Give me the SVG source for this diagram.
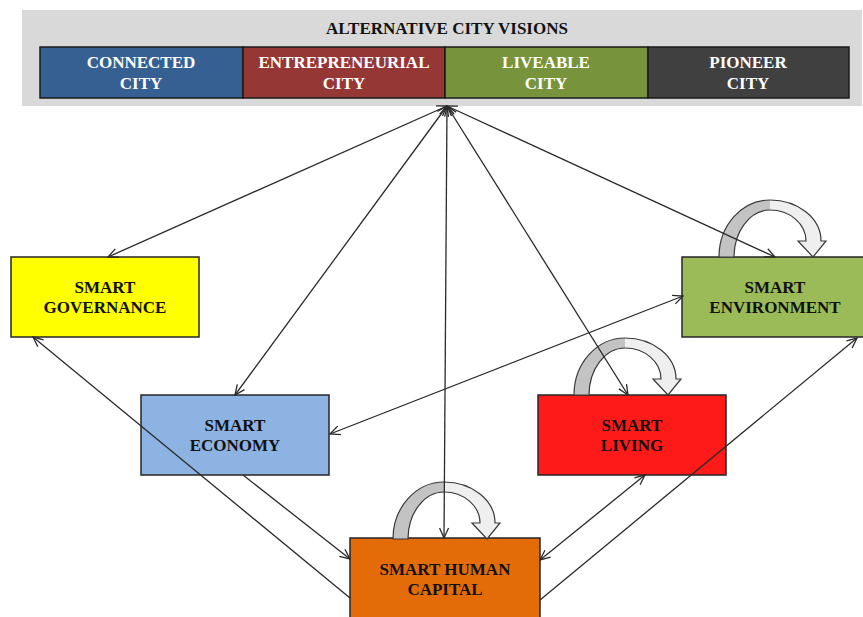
<svg xmlns="http://www.w3.org/2000/svg" width="863" height="617" viewBox="0 0 863 617">
<defs>
<style>
.t{font-family:"Liberation Serif","Times New Roman",serif;font-weight:bold;font-size:17px;text-anchor:middle}
.w{fill:#ffffff}
.k{fill:#111111}
.hb{stroke:#1a1a1a;stroke-width:1.5}
.nb{stroke:#262626;stroke-width:1.5}
.c{fill:none;stroke:#2a2a2a;stroke-width:1.3}
.dark{fill:#c3c3c3;stroke:none}
.light{fill:#efefef;stroke:none}
.ol{fill:none;stroke:#3a3a3a;stroke-width:1.2}
</style>
<marker id="ah" viewBox="0 0 12 12" refX="11" refY="6" markerWidth="12" markerHeight="12" markerUnits="userSpaceOnUse" orient="auto-start-reverse">
<path d="M1,1.5 L11,6 L1,10.5" fill="none" stroke="#2a2a2a" stroke-width="1.3"/>
</marker>
<g id="loop">
<path class="dark" d="M0,0 A51,57 0 0 1 51,-57 L51,-47 A36,47 0 0 0 15,0 Z"/>
<path class="ol" d="M51,-47 A36,47 0 0 0 15,0 L0,0 A51,57 0 0 1 51,-57"/>
<path class="light" d="M51,-57 A51,41 0 0 1 102,-16 L107,-16 L94,0 L79,-16 L87,-16 A36,31 0 0 0 51,-47 Z"/>
<path class="ol" d="M51,-57 A51,41 0 0 1 102,-16 L107,-16 L94,0 L79,-16 L87,-16 A36,31 0 0 0 51,-47"/>
</g>
</defs>
<rect width="863" height="617" fill="#ffffff"/>
<g id="visions">
<rect x="22" y="10" width="840" height="96" fill="#d9d9d9"/>
<text class="t k" x="447" y="34">ALTERNATIVE CITY VISIONS</text>
<g id="connected-city">
<rect class="hb" x="40" y="47" width="203" height="51" fill="#376092"/>
<text class="t w" x="141" y="68">CONNECTED</text>
<text class="t w" x="141" y="89">CITY</text>
</g>
<g id="entrepreneurial-city">
<rect class="hb" x="243" y="47" width="202" height="51" fill="#953735"/>
<text class="t w" x="344" y="68">ENTREPRENEURIAL</text>
<text class="t w" x="344" y="89">CITY</text>
</g>
<g id="liveable-city">
<rect class="hb" x="445" y="47" width="203" height="51" fill="#77933c"/>
<text class="t w" x="546" y="68">LIVEABLE</text>
<text class="t w" x="546" y="89">CITY</text>
</g>
<g id="pioneer-city">
<rect class="hb" x="648" y="47" width="201" height="51" fill="#404040"/>
<text class="t w" x="748" y="68">PIONEER</text>
<text class="t w" x="748" y="89">CITY</text>
</g>
</g>
<g id="smart-governance">
<rect class="nb" x="11" y="257" width="188" height="80" fill="#ffff00"/>
<text class="t k" x="105" y="293">SMART</text>
<text class="t k" x="105" y="313">GOVERNANCE</text>
</g>
<g id="smart-economy">
<rect class="nb" x="141" y="395" width="188" height="80" fill="#8db3e2"/>
<text class="t k" x="235" y="431">SMART</text>
<text class="t k" x="235" y="451">ECONOMY</text>
</g>
<g id="smart-living">
<rect class="nb" x="538" y="395" width="188" height="80" fill="#ff1a1a"/>
<text class="t k" x="632" y="431">SMART</text>
<text class="t k" x="632" y="451">LIVING</text>
</g>
<g id="smart-environment">
<rect class="nb" x="682" y="257" width="190" height="80" fill="#9bbb59"/>
<text class="t k" x="775" y="293">SMART</text>
<text class="t k" x="775" y="313">ENVIRONMENT</text>
</g>
<g id="smart-human-capital">
<rect class="nb" x="350" y="538" width="190" height="90" fill="#e36c09"/>
<text class="t k" x="445" y="575">SMART HUMAN</text>
<text class="t k" x="445" y="595">CAPITAL</text>
</g>
<g id="self-loops">
<use href="#loop" x="393" y="539"/>
<use href="#loop" x="574" y="395"/>
<use href="#loop" x="719" y="257"/>
</g>
<g id="connectors">
<line class="c" x1="447" y1="106" x2="108" y2="257" marker-start="url(#ah)" marker-end="url(#ah)"/>
<line class="c" x1="447" y1="106" x2="235" y2="395" marker-start="url(#ah)" marker-end="url(#ah)"/>
<line class="c" x1="447" y1="106" x2="444" y2="538" marker-start="url(#ah)" marker-end="url(#ah)"/>
<line class="c" x1="447" y1="106" x2="628" y2="395" marker-start="url(#ah)" marker-end="url(#ah)"/>
<line class="c" x1="447" y1="106" x2="775" y2="257" marker-start="url(#ah)" marker-end="url(#ah)"/>
<line class="c" x1="683" y1="296" x2="330" y2="434" marker-start="url(#ah)" marker-end="url(#ah)"/>
<line class="c" x1="350" y1="598" x2="33" y2="337" marker-end="url(#ah)"/>
<line class="c" x1="243" y1="475" x2="350" y2="559" marker-end="url(#ah)"/>
<line class="c" x1="645" y1="475" x2="540" y2="560" marker-start="url(#ah)" marker-end="url(#ah)"/>
<line class="c" x1="540" y1="600" x2="857" y2="338" marker-end="url(#ah)"/>
</g>
</svg>
